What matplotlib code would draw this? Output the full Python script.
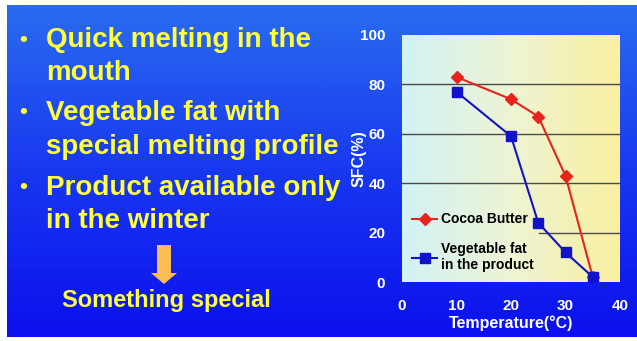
import numpy as np
import matplotlib
matplotlib.use("Agg")
import matplotlib.pyplot as plt
from matplotlib.colors import LinearSegmentedColormap
from matplotlib.patches import Polygon
from matplotlib.transforms import IdentityTransform

# Solid fat content curves
temps_cocoa = [10, 20, 25, 30, 35]
sfc_cocoa = [83, 74, 67, 43, 2]
temps_veg = [10, 20, 25, 30, 35]
sfc_veg = [77, 59, 24, 12, 2]

x_ticks = [0, 10, 20, 30, 40]
y_ticks = [0, 20, 40, 60, 80, 100]

bullets = [
    ["Quick melting in the", "mouth"],
    ["Vegetable fat with", "special melting profile"],
    ["Product available only", "in the winter"],
]
conclusion = "Something special"

plt.rcParams['font.family'] = ['Liberation Sans', 'DejaVu Sans']

W, H = 637, 341
fig = plt.figure(figsize=(W / 100, H / 100), dpi=100)
fig.patch.set_facecolor("white")

# blue slide background
bg = fig.add_axes([7 / W, 4 / H, 630 / W, 332 / H])
bg_cmap = LinearSegmentedColormap.from_list("slide", ["#0c10ee", "#1838f0", "#2a6cf0"])
bg.imshow(np.linspace(0, 1, 256).reshape(-1, 1), cmap=bg_cmap, aspect="auto",
          origin="lower", extent=[0, 1, 0, 1])
bg.set_axis_off()

yellow = "#ffff3c"
line_y = [40, 73, 113, 147, 188, 221]
k = 0
for item in bullets:
    fig.text(23 / W, 1 - line_y[k] / H, "\u2022", color=yellow, fontsize=16,
             fontweight="bold", ha="center", va="center")
    for line in item:
        fig.text(46 / W, 1 - line_y[k] / H, line, color=yellow, fontsize=20,
                 fontweight="bold", ha="left", va="center")
        k += 1

fig.text(166 / W, 1 - 300 / H, conclusion, color=yellow, fontsize=17,
         fontweight="bold", ha="center", va="center")

# down arrow in pixel coordinates
arrow = Polygon([(157, H - 245), (171, H - 245), (171, H - 273), (177, H - 273),
                 (164, H - 284), (151, H - 273), (157, H - 273)],
                closed=True, facecolor="#fdbd55", edgecolor="none",
                transform=IdentityTransform())
fig.patches.append(arrow)

# chart
ax = fig.add_axes([402 / W, 1 - 282 / H, 218 / W, 247 / H])
plot_cmap = LinearSegmentedColormap.from_list("plotbg", ["#d2f2f6", "#eef4d4", "#faf0a0"])
ax.imshow(np.linspace(0, 1, 256).reshape(1, -1), cmap=plot_cmap, aspect="auto",
          extent=[0, 40, 0, 100], zorder=0)

for y in [40, 60, 80]:
    ax.axhline(y, color="#4a4a4a", lw=1.0, zorder=1)
ax.axhline(20, xmin=0.63, color="#4a4a4a", lw=1.0, zorder=1)

ax.plot(temps_cocoa, sfc_cocoa, color="#e8231c", marker="D", markersize=6,
        lw=1.5, label="Cocoa Butter", zorder=3)
ax.plot(temps_veg, sfc_veg, color="#1212c8", marker="s", markersize=7,
        lw=1.5, label="Vegetable fat\nin the product", zorder=3)

ax.set_xlim(0, 40)
ax.set_ylim(0, 100)
ax.set_xticks(x_ticks)
ax.set_yticks(y_ticks)
for s in ax.spines.values():
    s.set_visible(False)
ax.tick_params(length=0, colors="white", labelsize=11)
ax.tick_params(axis="x", pad=12)
ax.tick_params(axis="y", pad=12)
for lab in ax.get_xticklabels() + ax.get_yticklabels():
    lab.set_fontweight("bold")

ax.set_xlabel("Temperature(\u00b0C)", color="white", fontsize=11.5,
              fontweight="bold", labelpad=2)
ax.set_ylabel("SFC(%)", color="white", fontsize=11.5, fontweight="bold", labelpad=-5)

leg = ax.legend(loc="lower left", bbox_to_anchor=(-0.01, -0.01), frameon=False,
                handlelength=1.8, handletextpad=0.25, labelspacing=1.1,
                prop={"weight": "bold", "size": 10})

fig.savefig("out.png", dpi=100)
